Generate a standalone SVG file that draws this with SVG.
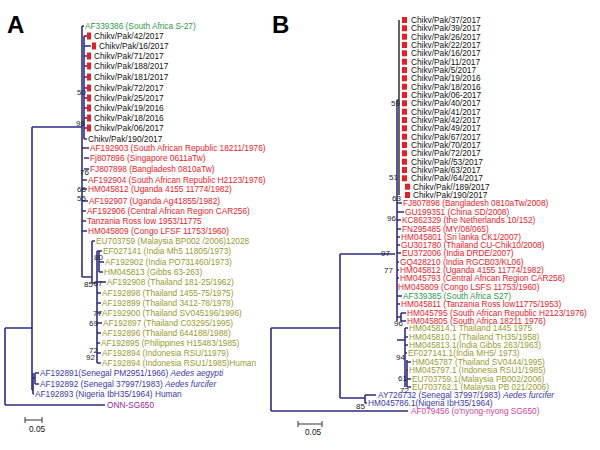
<svg xmlns="http://www.w3.org/2000/svg" width="600" height="450" viewBox="0 0 600 450">
<style>
text{font-family:"Liberation Sans",Arial,sans-serif;font-size:8.3px}
.big{font-size:24px;font-weight:bold;fill:#000}
.k{fill:#111}
.g{fill:#2f9a4c}
.r{fill:#ec2129}
.o{fill:#9b9a2f}
.b{fill:#3a3aac}
.p{fill:#9e2390}
.pk{fill:#d4419d}
.bs{fill:#222;font-size:8px}
.sq{fill:#ec1c24}
.ln{stroke:#2d2d8a;stroke-width:1.6;fill:none}
.lk{stroke:#111;stroke-width:1.3;fill:none}
.sb{stroke:#333;stroke-width:1;fill:none}
</style>
<rect width="600" height="450" fill="#fff"/>
<text class="big" x="7" y="33">A</text>
<text class="big" x="272" y="33">B</text>

<g id="connectors">
<!-- Panel A -->
<path class="ln" d="M5,328V405M5,328H32M5,405H105M32,127V390M32,127H82M82,26V277M82,26H84M84,36V139M84,36H87M84,46H91M84,56H87M84,66H87M84,77H87M84,88H87M84,98H87M84,108H87M84,118H87M84,128H87M84,139H87M82,148H89M84,158H89M84,169H89M82,180H87M82,189H87M82,201H88M82,211H86M82,221H86M82,231H87"/>
<path class="ln" d="M82,277H92M92,241V283M92,241H95M92,283H97M97,251V363M99,251V272M97,251H102M99,262H104M99,272H103M97,282H106M97,293H101M97,303H101M97,313H101M97,323H102M97,333H101M97,343H100M97,353H101M97,363H101"/>
<path class="ln" d="M32,390H33M33,373V394M33,378H35M35,373V384M35,373H39M35,384H39M33,394H34"/>
<!-- Panel B -->
<path class="ln" d="M271,328V411M271,328H340M271,411H408M340,254V398M340,254H395M340,398H365M365,395V403M365,395H376M365,403H367"/>
<path class="lk" d="M399,20V195"/>
<path class="ln" d="M397,100V300M397,100H399M397,203H402M397,212H404M397,220H401M397,229H401M397,237H400M397,245H400M397,253H401M397,262H399M397,270H399M397,278H399M397,287H397M397,296H402M397,304H400M397,300V321M401,313V321M397,317H401M401,313H406M401,321H406M397,340H405M405,328V387M405,328H408M405,337H408M405,345H408M405,353H407M407,360V387M407,362H411M407,370H408M407,379H411M407,387H411"/>
<!-- scale bars -->
<path class="sb" d="M25,420H42M25,417V423M42,417V423M298,424H322M298,421V427M322,421V427"/>
</g>

<g id="bootstrap">
<text class="bs" x="77" y="95">50</text>
<text class="bs" x="76" y="126">98</text>
<text class="bs" x="80" y="175">76</text>
<text class="bs" x="77" y="192">66</text>
<text class="bs" x="77" y="201">55</text>
<text class="bs" x="94" y="260">80</text>
<text class="bs" x="84" y="287">85</text>
<text class="bs" x="93.5" y="286">67</text>
<text class="bs" x="93" y="316">77</text>
<text class="bs" x="89" y="326">69</text>
<text class="bs" x="89" y="353">72</text>
<text class="bs" x="86" y="360">92</text>
<text class="bs" x="391" y="106">59</text>
<text class="bs" x="389" y="180">51</text>
<text class="bs" x="392" y="201">63</text>
<text class="bs" x="387" y="221">96</text>
<text class="bs" x="381" y="256">97</text>
<text class="bs" x="384" y="273">77</text>
<text class="bs" x="394" y="326">96</text>
<text class="bs" x="396" y="360">94</text>
<text class="bs" x="398" y="381">61</text>
<text class="bs" x="400" y="393">72</text>
<text class="bs" x="356" y="409">85</text>
</g>

<g id="scale-labels">
<text class="k" x="29" y="432">0.05</text>
<text class="k" x="305" y="435">0.05</text>
</g>

<!-- Panel A leaves -->
<g id="A-AF339386"><text class="g" x="85" y="29">AF339386 (South Africa S-27)</text></g>
<g id="A-pak42"><rect class="sq" x="87" y="32.5" width="4" height="7"/><text class="k" x="94" y="39">Chikv/Pak/42/2017</text></g>
<g id="A-pak16"><rect class="sq" x="92" y="42.5" width="4" height="7"/><text class="k" x="99" y="49">Chikv/Pak/16/2017</text></g>
<g id="A-pak71"><rect class="sq" x="87" y="52.5" width="4" height="7"/><text class="k" x="94" y="59">Chikv/Pak/71/2017</text></g>
<g id="A-pak188"><rect class="sq" x="87" y="62.5" width="4" height="7"/><text class="k" x="94" y="69">Chikv/Pak/188/2017</text></g>
<g id="A-pak181"><rect class="sq" x="87" y="73.5" width="4" height="7"/><text class="k" x="94" y="80">Chikv/Pak/181/2017</text></g>
<g id="A-pak72"><rect class="sq" x="87" y="84.5" width="4" height="7"/><text class="k" x="94" y="91">Chikv/Pak/72/2017</text></g>
<g id="A-pak25"><rect class="sq" x="87" y="94.5" width="4" height="7"/><text class="k" x="94" y="101">Chikv/Pak/25/2017</text></g>
<g id="A-pak19"><rect class="sq" x="87" y="104.5" width="4" height="7"/><text class="k" x="94" y="111">Chikv/Pak/19/2016</text></g>
<g id="A-pak18"><rect class="sq" x="87" y="114.5" width="4" height="7"/><text class="k" x="94" y="121">Chikv/Pak/18/2016</text></g>
<g id="A-pak06"><rect class="sq" x="87" y="124.5" width="4" height="7"/><text class="k" x="94" y="131">Chikv/Pak/06/2017</text></g>
<g id="A-pak190"><text class="k" x="88" y="142">Chikv/Pak/190/2017</text></g>
<g id="A-AF192903"><text class="r" x="90" y="151">AF192903 (South African Republic 18211/1976)</text></g>
<g id="A-Fj807896"><text class="r" x="90" y="161">Fj807896 (Singapore 0611aTw)</text></g>
<g id="A-FJ807898"><text class="r" x="90" y="172">FJ807898 (Bangladesh 0810aTw)</text></g>
<g id="A-AF192904"><text class="r" x="88" y="183">AF192904 (South African Republic H2123/1976)</text></g>
<g id="A-HM045812"><text class="r" x="88" y="192">HM045812 (Uganda 4155 11774/1982)</text></g>
<g id="A-AF192907"><text class="r" x="89" y="204">AF192907 (Uganda Ag41855/1982)</text></g>
<g id="A-AF192906"><text class="r" x="87" y="214">AF192906 (Central African Region CAR256)</text></g>
<g id="A-Tanzania"><text class="r" x="87" y="224">Tanzania Ross low 1953/11775</text></g>
<g id="A-HM045809"><text class="r" x="88" y="234">HM045809 (Congo LFSF 11753/1960)</text></g>
<g id="A-EU703759"><text class="o" x="96" y="244">EU703759 (Malaysia BP002 /2006)12028</text></g>
<g id="A-EF027141"><text class="o" x="103" y="254">EF027141 (India Mh5 11805/1973)</text></g>
<g id="A-AF192902"><text class="o" x="105" y="265">AF192902 (India PO731460/1973)</text></g>
<g id="A-HM045813"><text class="o" x="104" y="275">HM045813 (Gibbs 63-263)</text></g>
<g id="A-AF192908"><text class="o" x="107" y="285">AF192908 (Thailand 181-25/1962)</text></g>
<g id="A-AF192898"><text class="o" x="102" y="296">AF192898 (Thailand 1455-75/1975)</text></g>
<g id="A-AF192899"><text class="o" x="102" y="306">AF192899 (Thailand 3412-78/1978)</text></g>
<g id="A-AF192900"><text class="o" x="102" y="316">AF192900 (Thailand SV045196/1996)</text></g>
<g id="A-AF192897"><text class="o" x="103" y="326">AF192897 (Thailand C03295/1995)</text></g>
<g id="A-AF192896"><text class="o" x="102" y="336">AF192896 (Thailand 644188/1988)</text></g>
<g id="A-AF192895"><text class="o" x="101" y="346">AF192895 (Philippines H15483/1985)</text></g>
<g id="A-AF192894a"><text class="o" x="102" y="356">AF192894 (Indonesia RSU/11979)</text></g>
<g id="A-AF192894b"><text class="o" x="102" y="366">AF192894 (Indonesia RSU1/1985)Human</text></g>
<g id="A-AF192891"><text class="b" x="40" y="376">AF192891(Senegal PM2951/1966) <tspan font-style="italic">Aedes aegypti</tspan></text></g>
<g id="A-AF192892"><text class="b" x="40" y="387">AF192892 (Senegal 37997/1983) <tspan font-style="italic">Aedes furcifer</tspan></text></g>
<g id="A-AF192893"><text class="b" x="35" y="397">AF192893 (Nigeria IbH35/1964) Human</text></g>
<g id="A-ONN"><text class="p" x="107" y="408">ONN-SG650</text></g>

<!-- Panel B leaves -->
<g id="B-pak37"><rect class="sq" x="402" y="17" width="5" height="6"/><text class="k" x="411" y="23">Chikv/Pak/37/2017</text></g>
<g id="B-pak39"><rect class="sq" x="402" y="25.3" width="5" height="6"/><text class="k" x="411" y="31.3">Chikv/Pak/39/2017</text></g>
<g id="B-pak26"><rect class="sq" x="402" y="33.7" width="5" height="6"/><text class="k" x="411" y="39.7">Chikv/Pak/26/2017</text></g>
<g id="B-pak22"><rect class="sq" x="402" y="42" width="5" height="6"/><text class="k" x="411" y="48">Chikv/Pak/22/2017</text></g>
<g id="B-pak16"><rect class="sq" x="402" y="50.3" width="5" height="6"/><text class="k" x="411" y="56.3">Chikv/Pak/16/2017</text></g>
<g id="B-pak11"><rect class="sq" x="402" y="58.7" width="5" height="6"/><text class="k" x="411" y="64.7">Chikv/Pak/11/2017</text></g>
<g id="B-pak5"><rect class="sq" x="402" y="67" width="5" height="6"/><text class="k" x="411" y="73">Chikv/Pak/5/2017</text></g>
<g id="B-pak19"><rect class="sq" x="402" y="75.3" width="5" height="6"/><text class="k" x="411" y="81.3">Chikv/Pak/19/2016</text></g>
<g id="B-pak18"><rect class="sq" x="402" y="83.7" width="5" height="6"/><text class="k" x="411" y="89.7">Chikv/Pak/18/2016</text></g>
<g id="B-pak06"><rect class="sq" x="402" y="92" width="5" height="6"/><text class="k" x="411" y="98">Chikv/Pak/06-2017</text></g>
<g id="B-pak40"><rect class="sq" x="402" y="100.3" width="5" height="6"/><text class="k" x="411" y="106.3">Chikv/Pak/40/2017</text></g>
<g id="B-pak41"><rect class="sq" x="402" y="108.7" width="5" height="6"/><text class="k" x="411" y="114.7">Chikv/Pak/41/2017</text></g>
<g id="B-pak42"><rect class="sq" x="402" y="117" width="5" height="6"/><text class="k" x="411" y="123">Chikv/Pak/42/2017</text></g>
<g id="B-pak49"><rect class="sq" x="402" y="125.3" width="5" height="6"/><text class="k" x="411" y="131.3">Chikv/Pak/49/2017</text></g>
<g id="B-pak67"><rect class="sq" x="402" y="133.7" width="5" height="6"/><text class="k" x="411" y="139.7">Chikv/Pak/67/2017</text></g>
<g id="B-pak70"><rect class="sq" x="402" y="142" width="5" height="6"/><text class="k" x="411" y="148">Chikv/Pak/70/2017</text></g>
<g id="B-pak72"><rect class="sq" x="402" y="150.3" width="5" height="6"/><text class="k" x="411" y="156.3">Chikv/Pak/72/2017</text></g>
<g id="B-pak53"><rect class="sq" x="402" y="158.7" width="5" height="6"/><text class="k" x="411" y="164.7">Chikv/Pak//53/2017</text></g>
<g id="B-pak63"><rect class="sq" x="402" y="167" width="5" height="6"/><text class="k" x="411" y="173">Chikv/Pak/63/2017</text></g>
<g id="B-pak64"><rect class="sq" x="402" y="175.3" width="5" height="6"/><text class="k" x="411" y="181.3">Chikv/Pak//64/2017</text></g>
<g id="B-pak189"><rect class="sq" x="405" y="183.7" width="5" height="6"/><text class="k" x="413" y="189.7">Chikv/Pak//189/2017</text></g>
<g id="B-pak190"><rect class="sq" x="405" y="192" width="5" height="6"/><text class="k" x="413" y="198">Chikv/Pak/190/2017</text></g>
<g id="B-FJ807898"><text class="r" x="403" y="206">FJ807898 (Bangladesh 0810aTw/2008)</text></g>
<g id="B-GU199351"><text class="r" x="405" y="215">GU199351 (China SD/2008)</text></g>
<g id="B-KC862329"><text class="r" x="402" y="223">KC862329 (the Netherlands 10/152)</text></g>
<g id="B-FN295485"><text class="r" x="402" y="232">FN295485 (MY/08/065)</text></g>
<g id="B-HM045801"><text class="r" x="401" y="240">HM045801 (Sri lanka CK1/2007)</text></g>
<g id="B-GU301780"><text class="r" x="401" y="248">GU301780 (Thailand CU-Chik10/2008)</text></g>
<g id="B-EU372006"><text class="r" x="402" y="256">EU372006 (India DRDE/2007)</text></g>
<g id="B-GQ428210"><text class="r" x="400" y="265">GQ428210 (India RGCB03/KL06)</text></g>
<g id="B-HM045812"><text class="r" x="400" y="273">HM045812 (Uganda 4155 11774/1982)</text></g>
<g id="B-HM045793"><text class="r" x="400" y="281">HM045793 (Central African Region CAR256)</text></g>
<g id="B-HM045809"><text class="r" x="398" y="290">HM045809 (Congo LSFS 11753/1960)</text></g>
<g id="B-AF339385"><text class="g" x="403" y="299">AF339385 (South Africa S27)</text></g>
<g id="B-HM045811"><text class="r" x="401" y="307">HM045811 (Tanzania Ross low11775/1953)</text></g>
<g id="B-HM045795"><text class="r" x="407" y="316">HM045795 (South African Republic H2123/1976)</text></g>
<g id="B-HM045805"><text class="r" x="407" y="324">HM045805 (South Africa 18211 1976)</text></g>
<g id="B-HM045814"><text class="o" x="409" y="331">HM045814.1 Thailand 1445 1975</text></g>
<g id="B-HM045810"><text class="o" x="409" y="340">HM045810.1 (Thailand TH35/1958)</text></g>
<g id="B-HM045813"><text class="o" x="409" y="348">HM045813.1(India Gibbs 263/1963)</text></g>
<g id="B-EF027141"><text class="o" x="408" y="356">EF027141.1(India MH5/ 1973)</text></g>
<g id="B-HM045787"><text class="o" x="412" y="365">HM045787 (Thailand SV0444/1995)</text></g>
<g id="B-HM045797"><text class="o" x="409" y="373">HM045797.1 (Indonesia RSU1/1985)</text></g>
<g id="B-EU703759"><text class="o" x="412" y="382">EU703759.1(Malaysia PB002/2006)</text></g>
<g id="B-EU703762"><text class="o" x="412" y="390">EU703762.1 (Malaysia PB 021/2006)</text></g>
<g id="B-AY726732"><text class="b" x="378" y="398">AY726732 (Senegal 37997/1983) <tspan font-style="italic">Aedes furcifer</tspan></text></g>
<g id="B-HM045786"><text class="b" x="368" y="406">HM045786.1(Nigeria IbH35/1964)</text></g>
<g id="B-AF079456"><text class="pk" x="411" y="414">AF079456 (o'nyong-nyong SG650)</text></g>
</svg>
